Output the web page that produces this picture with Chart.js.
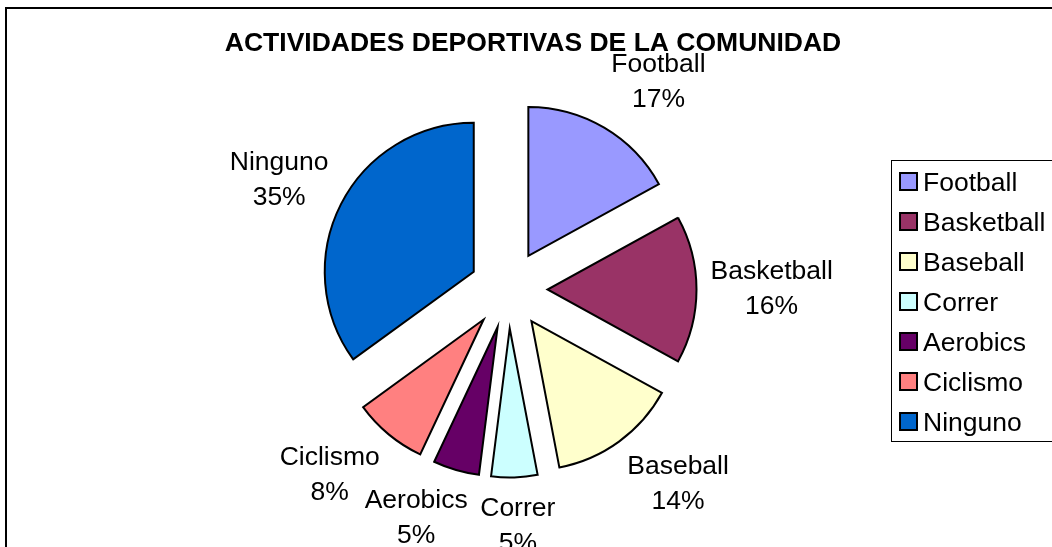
<!DOCTYPE html>
<html>
<head>
<meta charset="utf-8">
<script src="https://cdn.jsdelivr.net/npm/chart.js@4.4.1/dist/chart.umd.min.js"></script>
<style>
  html, body { margin: 0; padding: 0; background: #ffffff; }
  #wrap { width: 1052px; height: 547px; position: relative; }
</style>
</head>
<body>
<div id="wrap"><canvas id="c" width="1052" height="547"></canvas></div>
<script>
// Survey results: share of the community practising each sport (%)
const chartTitle = 'ACTIVIDADES DEPORTIVAS DE LA COMUNIDAD';
const categories = ['Football', 'Basketball', 'Baseball', 'Correr', 'Aerobics', 'Ciclismo', 'Ninguno'];
const shares = [17, 16, 14, 5, 5, 8, 35];
const sliceColors = ['#9999FF', '#993366', '#FFFFCC', '#CCFFFF', '#660066', '#FF8080', '#0066CC'];

const FONT = '"Liberation Sans", Arial, Helvetica, sans-serif';
const TEXT_SIZE = 26.5;
const PIE_RADIUS = 149;   // px
const EXPLODE = 39;       // distance each slice is pulled out of the centre, px
const LABEL_GAP = 14;     // space between a slice rim and its label box
const LABEL_LINE = 35;    // line height of the two-line slice labels

// Draws every slice pulled out along its own bisector.
const explodedPie = {
  id: 'explodedPie',
  beforeDatasetDraw(chart, args) {
    const ctx = chart.ctx;
    args.meta.data.forEach(arc => {
      const mid = (arc.startAngle + arc.endAngle) / 2;
      ctx.save();
      ctx.translate(Math.cos(mid) * EXPLODE, Math.sin(mid) * EXPLODE);
      arc.draw(ctx);
      ctx.restore();
    });
    return false;
  }
};

// "Name / NN%" labels placed just outside each exploded slice.
const sliceLabels = {
  id: 'sliceLabels',
  afterDatasetsDraw(chart) {
    const ctx = chart.ctx;
    const meta = chart.getDatasetMeta(0);
    const values = chart.data.datasets[0].data;
    const total = values.reduce((a, b) => a + b, 0);
    const clamp = t => Math.max(-1, Math.min(1, t));
    ctx.save();
    ctx.font = TEXT_SIZE + 'px ' + FONT;
    ctx.fillStyle = '#000000';
    ctx.textAlign = 'center';
    ctx.textBaseline = 'middle';
    meta.data.forEach((arc, i) => {
      const lines = [chart.data.labels[i], Math.round(values[i] / total * 100) + '%'];
      const w = Math.max(...lines.map(s => ctx.measureText(s).width));
      const h = LABEL_LINE * lines.length;
      const mid = (arc.startAngle + arc.endAngle) / 2;
      const dx = Math.cos(mid), dy = Math.sin(mid);
      const reach = arc.outerRadius + EXPLODE + LABEL_GAP;
      // the label box leans away from the slice so its near corner sits on the bisector
      const cx = arc.x + dx * reach + clamp(dx * 2.5) * w / 2;
      const cy = arc.y + dy * reach + clamp(dy * 1.1) * h / 2;
      lines.forEach((s, j) => {
        ctx.fillText(s, cx, cy + (j - (lines.length - 1) / 2) * LABEL_LINE);
      });
    });
    ctx.restore();
  }
};

// Outer frame, title and boxed legend.
const chartDecor = {
  id: 'chartDecor',
  afterDraw(chart) {
    const ctx = chart.ctx;
    ctx.save();

    ctx.strokeStyle = '#000000';
    ctx.lineWidth = 2;
    ctx.lineJoin = 'miter';
    ctx.beginPath();
    ctx.moveTo(6, chart.height);
    ctx.lineTo(6, 8);
    ctx.lineTo(chart.width, 8);
    ctx.stroke();

    ctx.fillStyle = '#000000';
    ctx.font = 'bold ' + TEXT_SIZE + 'px ' + FONT;
    ctx.textAlign = 'center';
    ctx.textBaseline = 'alphabetic';
    ctx.fillText(chartTitle, 533, 51);

    const legend = { left: 891.5, top: 160.5, bottom: 441.5, boxX: 900, firstRow: 172, row: 40, box: 17, textX: 923 };
    ctx.lineWidth = 1;
    ctx.strokeRect(legend.left, legend.top, chart.width - legend.left + 20, legend.bottom - legend.top);

    const ds = chart.data.datasets[0];
    ctx.font = TEXT_SIZE + 'px ' + FONT;
    ctx.textAlign = 'left';
    chart.data.labels.forEach((label, i) => {
      const y = legend.firstRow + i * legend.row;
      ctx.fillStyle = ds.backgroundColor[i];
      ctx.fillRect(legend.boxX, y + 1, legend.box, legend.box);
      ctx.lineWidth = 2;
      ctx.strokeStyle = ds.borderColor;
      ctx.strokeRect(legend.boxX, y + 1, legend.box, legend.box);
      ctx.fillStyle = '#000000';
      ctx.fillText(label, legend.textX, y + 19);
    });
    ctx.restore();
  }
};

new Chart(document.getElementById('c'), {
  type: 'pie',
  data: {
    labels: categories,
    datasets: [{
      data: shares,
      backgroundColor: sliceColors,
      borderColor: '#000000',
      borderWidth: 2,
      borderJoinStyle: 'miter',
      radius: PIE_RADIUS
    }]
  },
  options: {
    responsive: false,
    animation: false,
    devicePixelRatio: 1,
    events: [],
    layout: { padding: { left: 132, right: 167, top: 140, bottom: 108 } },
    plugins: {
      legend: { display: false },
      title: { display: false },
      tooltip: { enabled: false }
    }
  },
  plugins: [explodedPie, sliceLabels, chartDecor]
});
</script>
</body>
</html>
